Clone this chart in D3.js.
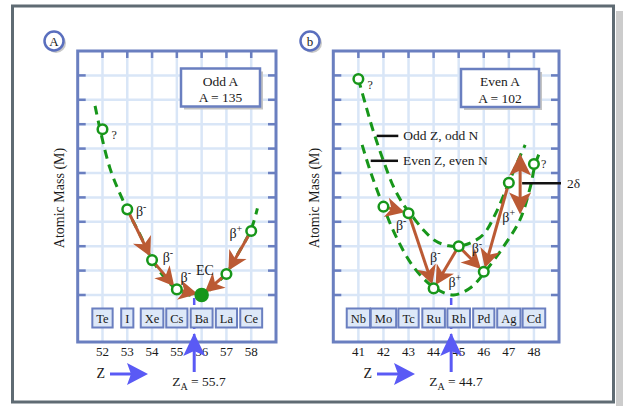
<!DOCTYPE html>
<html><head><meta charset="utf-8">
<script src="https://cdn.jsdelivr.net/npm/d3@7"></script>
<style>body{margin:0;background:#fff} svg{display:block} text{font-family:"Liberation Serif","Times New Roman",serif;fill:#1a1a1a}</style>
</head><body><svg id="c" width="623" height="406"></svg>
<script>
// ---------- Panel A data (odd A = 135) ----------
const oddZ = [52,53,54,55,56,57,58];
const oddSymbols = ["Te","I","Xe","Cs","Ba","La","Ce"];
const oddMass = [6.79,3.51,1.43,0.23,0.0,0.86,2.62];
const oddStable = ["Ba"];
const oddUnknown = ["Te"];
const oddCurveZ = [51.7,52.3,53.0,53.5,54.0,54.5,55.0,55.5,56.0,56.5,57.0,57.5,58.0,58.25];
const oddCurveM = [7.75,5.2,3.5,2.5,1.45,0.72,0.22,0.0,-0.05,0.38,0.9,1.75,2.7,3.55];
const oddDecayFrom = ["I","Xe","Cs","Ce","La"];
const oddDecayTo   = ["Xe","Cs","Ba","La","Ba"];
const oddDecayLabel = ["β−","β−","β−","β+","EC"];
const oddZA = 55.7;
const oddTitle = ["Odd A","A = 135"];

// ---------- Panel B data (even A = 102) ----------
const evenZ = [41,42,43,44,45,46,47,48];
const evenSymbols = ["Nb","Mo","Tc","Ru","Rh","Pd","Ag","Cd"];
const evenMass = [8.85,3.62,3.35,0.27,2.0,0.95,4.6,5.37];
const evenStable = [];
const evenUnknown = ["Nb","Cd"];
const oddOddCurveZ = [41.0,41.3,41.6,42.0,42.4,42.8,43.1,43.6,44.1,44.6,45.0,45.5,46.0,46.5,47.0,47.3,47.65];
const oddOddCurveM = [8.85,7.75,6.7,5.5,4.44,3.7,3.3,2.66,2.2,2.02,2.0,2.15,2.5,3.4,4.6,5.35,6.15];
const evenEvenCurveZ = [41.15,41.5,42.0,42.5,43.2,44.0,44.8,45.5,46.05,46.8,47.45,47.85,48.05,48.25];
const evenEvenCurveM = [6.15,5.0,3.62,2.4,1.15,0.32,0.0,0.32,0.95,2.0,3.1,4.4,5.35,5.9];
const evenDecayFrom = ["Mo","Tc","Rh","Rh","Ag"];
const evenDecayTo   = ["Tc","Ru","Ru","Pd","Pd"];
const evenDecayLabel = ["β−","β−","β+","β−","β+"];
const evenZA = 44.7;
const evenTitle = ["Even A","A = 102"];
const pairingZ = 47.45, pairingLow = 3.3, pairingHigh = 5.8;
const legendLabels = ["Odd Z, odd N","Even Z, even N"];

// ---------- Layout / style ----------
const FRAME = "#6a7fc0", GRID = "#d9e6f7", GREEN = "#17961a", BROWN = "#bb5a34", BLUE = "#5a5af5";
const TOP = 51, BOTTOM = 342;
const yS = d3.scaleLinear().domain([0,10]).range([295,51]);
const svg = d3.select("#c");

// outer frame with shadow
svg.append("rect").attr("x",616).attr("y",11).attr("width",7).attr("height",395).attr("fill","#cccccc");
svg.append("rect").attr("x",12.5).attr("y",6).attr("width",601).attr("height",396)
  .attr("fill","#fff").attr("stroke","#5f6b73").attr("stroke-width",3);

function betaText(sel, lab, x, y, anchor){
  const t = sel.append("text").attr("x",x).attr("y",y).attr("font-size",14).attr("text-anchor",anchor||"start");
  if (lab[0]==="β"){
    t.append("tspan").text("β");
    t.append("tspan").attr("dy",-6).attr("font-size",10).text(lab[1]==="−"?"-":"+");
  } else t.text(lab);
  return t;
}

function arrow(g, x0,y0,x1,y1, gap){
  const dx=x1-x0, dy=y1-y0, d=Math.hypot(dx,dy), ux=dx/d, uy=dy/d;
  const tx=x1-ux*gap, ty=y1-uy*gap, L=19, W=10;
  const bx=tx-ux*L, by=ty-uy*L, nx=-uy, ny=ux;
  g.append("line").attr("x1",x0).attr("y1",y0).attr("x2",tx-ux*L*0.6).attr("y2",ty-uy*L*0.6)
    .attr("stroke",BROWN).attr("stroke-width",3);
  g.append("path").attr("d",`M${tx},${ty}L${bx+nx*W},${by+ny*W}L${tx-ux*L*0.72},${ty-uy*L*0.72}L${bx-nx*W},${by-ny*W}Z`)
    .attr("fill",BROWN);
}

function panel(cfg){
  const x = cfg.x, g = svg.append("g");
  const [x0,x1] = x.range();
  const zTicks = d3.range(Math.ceil(x.domain()[0])+1, x.domain()[1]);
  // grid
  g.selectAll(".vg").data(zTicks).join("line").attr("x1",d=>x(d)).attr("x2",d=>x(d)).attr("y1",TOP).attr("y2",BOTTOM)
    .attr("stroke",GRID).attr("stroke-width",2.5);
  const mTicks = d3.range(0,10);
  g.selectAll(".hg").data(mTicks).join("line").attr("x1",x0).attr("x2",x1).attr("y1",d=>yS(d)).attr("y2",d=>yS(d))
    .attr("stroke",GRID).attr("stroke-width",2.5);
  // frame
  g.append("rect").attr("x",x0).attr("y",TOP).attr("width",x1-x0).attr("height",BOTTOM-TOP)
    .attr("fill","none").attr("stroke",FRAME).attr("stroke-width",3);
  // frame ticks
  g.selectAll(".tt").data(zTicks).join("line").attr("x1",d=>x(d)).attr("x2",d=>x(d)).attr("y1",TOP).attr("y2",TOP+7)
    .attr("stroke",FRAME).attr("stroke-width",2.5);
  g.selectAll(".lt").data(mTicks).join("line").attr("x1",x0).attr("x2",x0+8).attr("y1",d=>yS(d)).attr("y2",d=>yS(d))
    .attr("stroke",FRAME).attr("stroke-width",2.5);
  g.selectAll(".rt").data(mTicks).join("line").attr("x1",x1-8).attr("x2",x1).attr("y1",d=>yS(d)).attr("y2",d=>yS(d))
    .attr("stroke",FRAME).attr("stroke-width",2.5);
  // Z_A dashed line
  const xa = x(cfg.za);
  g.append("line").attr("x1",xa).attr("x2",xa).attr("y1",yS(0)+3).attr("y2",BOTTOM)
    .attr("stroke",BLUE).attr("stroke-width",2.5).attr("stroke-dasharray","7,5");
  // element boxes
  cfg.Z.forEach((z,i)=>{
    const bg = g.append("g");
    const r = bg.append("rect").attr("y",308.5).attr("height",19).attr("fill","#dde8f8").attr("stroke",FRAME).attr("stroke-width",2);
    const t = bg.append("text").attr("x",x(z)).attr("y",322.5).attr("text-anchor","middle").attr("font-size",12.5).text(cfg.sym[i]);
    const w = t.node().getComputedTextLength()+8;
    r.attr("x",x(z)-w/2).attr("width",w);
  });
  // tick labels
  g.selectAll(".tl").data(cfg.Z).join("text").attr("x",d=>x(d)).attr("y",356).attr("text-anchor","middle")
    .attr("font-size",13).text(d=>d);
  // y title
  g.append("text").attr("transform",`translate(${x0-14},198) rotate(-90)`).attr("text-anchor","middle")
    .attr("font-size",14).text("Atomic Mass (M)");
  // curves
  const line = d3.line().x(d=>x(d[0])).y(d=>yS(d[1])).curve(d3.curveCatmullRom.alpha(0.5));
  cfg.curves.forEach(c=>{
    g.append("path").attr("d",line(d3.zip(c[0],c[1]))).attr("fill","none").attr("stroke",GREEN)
      .attr("stroke-width",3).attr("stroke-dasharray","9,6");
  });
  // decay arrows
  const pos = s => { const i=cfg.sym.indexOf(s); return [x(cfg.Z[i]), yS(cfg.mass[i])]; };
  cfg.from.forEach((f,i)=>{
    const a=pos(f), b=pos(cfg.to[i]);
    arrow(g,a[0],a[1],b[0],b[1],4);
  });
  // points
  cfg.Z.forEach((z,i)=>{
    const st = cfg.stable.includes(cfg.sym[i]);
    g.append("circle").attr("cx",x(z)).attr("cy",yS(cfg.mass[i])).attr("r",st?6:4.8)
      .attr("fill",st?GREEN:"#fff").attr("stroke",GREEN).attr("stroke-width",2.5);
    if (cfg.unknown.includes(cfg.sym[i]))
      g.append("text").attr("x",x(z)+cfg.qdx[cfg.unknown.indexOf(cfg.sym[i])]).attr("y",yS(cfg.mass[i])+cfg.qdy[cfg.unknown.indexOf(cfg.sym[i])])
        .attr("font-size",12).text("?");
  });
  // decay labels (placed in data coordinates)
  cfg.labels.forEach((lab,i)=>{
    const p = cfg.labelAt[i];
    betaText(g, lab, x(p[0]), yS(p[1])+5, lab==="EC"?"middle":"start");
  });
  // title box
  const tb = cfg.box;
  g.append("rect").attr("x",tb[0]+3).attr("y",tb[1]+3).attr("width",tb[2]).attr("height",tb[3]).attr("fill","#c4c4c4");
  g.append("rect").attr("x",tb[0]).attr("y",tb[1]).attr("width",tb[2]).attr("height",tb[3]).attr("fill","#fff")
    .attr("stroke",FRAME).attr("stroke-width",2.5);
  cfg.title.forEach((t,i)=> g.append("text").attr("x",tb[0]+tb[2]/2).attr("y",tb[1]+17+i*16.5).attr("text-anchor","middle")
    .attr("font-size",13.5).text(t));
  // panel tag
  g.append("circle").attr("cx",cfg.tag[0]+2).attr("cy",cfg.tag[1]+2).attr("r",10).attr("fill","#c8c8c8");
  g.append("circle").attr("cx",cfg.tag[0]).attr("cy",cfg.tag[1]).attr("r",9.5).attr("fill","#fff").attr("stroke","#5a6fbe").attr("stroke-width",2.5);
  g.append("text").attr("x",cfg.tag[0]).attr("y",cfg.tag[1]+4.5).attr("text-anchor","middle").attr("font-size",13).text(cfg.tag[2]);
  // Z arrow
  const zx = cfg.zArrow;
  g.append("text").attr("x",zx-5).attr("y",378).attr("text-anchor","end").attr("font-size",14).text("Z");
  g.append("line").attr("x1",zx).attr("x2",zx+22).attr("y1",374).attr("y2",374).attr("stroke",BLUE).attr("stroke-width",3);
  g.append("path").attr("d",`M${zx+38},374L${zx+17},363L${zx+21},374L${zx+17},385Z`).attr("fill",BLUE);
  // Z_A arrow
  g.append("line").attr("x1",xa).attr("x2",xa).attr("y1",372).attr("y2",350).attr("stroke",BLUE).attr("stroke-width",3);
  g.append("path").attr("d",`M${xa},333L${xa+11},356L${xa},351L${xa-11},356Z`).attr("fill",BLUE);
  const zt = g.append("text").attr("x",xa-22).attr("y",386).attr("font-size",13.5);
  zt.append("tspan").text("Z");
  zt.append("tspan").attr("dy",4).attr("font-size",10).text("A");
  zt.append("tspan").attr("dy",-4).text(" = "+cfg.za);
  return g;
}

const xA = d3.scaleLinear().domain([51,59]).range([77.7,276]);
panel({x:xA, Z:oddZ, sym:oddSymbols, mass:oddMass, stable:oddStable, unknown:oddUnknown, qdx:[9], qdy:[10],
  curves:[[oddCurveZ,oddCurveM]], from:oddDecayFrom, to:oddDecayTo, labels:oddDecayLabel,
  labelAt:[[53.35,3.44],[54.43,1.56],[55.15,0.75],[57.12,2.53],[56.13,1.02]],
  za:oddZA, title:oddTitle, box:[181,68.5,79,38], tag:[54,41,"A"], zArrow:110});

const xB = d3.scaleLinear().domain([40,49]).range([333.3,559]);
const gB = panel({x:xB, Z:evenZ, sym:evenSymbols, mass:evenMass, stable:evenStable, unknown:evenUnknown, qdx:[9,7], qdy:[10,4],
  curves:[[oddOddCurveZ,oddOddCurveM],[evenEvenCurveZ,evenEvenCurveM]], from:evenDecayFrom, to:evenDecayTo, labels:evenDecayLabel,
  labelAt:[[42.5,2.87],[43.86,1.55],[44.59,0.55],[45.52,1.91],[46.74,3.21]],
  za:evenZA, title:evenTitle, box:[461,69,78,38], tag:[310,41,"b"], zArrow:377});

// pairing (2δ) double arrow
const px = xB(pairingZ), yHi = yS(pairingHigh), yLo = yS(pairingLow);
gB.append("line").attr("x1",px).attr("x2",px).attr("y1",yHi+15).attr("y2",yLo-15).attr("stroke",BROWN).attr("stroke-width",3);
gB.append("path").attr("d",`M${px},${yHi}L${px+11},${yHi+22}L${px},${yHi+17}L${px-11},${yHi+22}Z`).attr("fill",BROWN);
gB.append("path").attr("d",`M${px},${yLo}L${px+11},${yLo-22}L${px},${yLo-17}L${px-11},${yLo-22}Z`).attr("fill",BROWN);
const ymid = yS(4.58);
gB.append("line").attr("x1",px+2).attr("x2",561).attr("y1",ymid).attr("y2",ymid).attr("stroke","#111").attr("stroke-width",2.5);
gB.append("text").attr("x",567).attr("y",ymid+5).attr("font-size",13.5).text("2δ");

// legend for the two parabolas
[[376.7,398.3,yS(6.52)],[370.7,398,yS(5.5)]].forEach((l,i)=>{
  gB.append("line").attr("x1",l[0]).attr("x2",l[1]).attr("y1",l[2]).attr("y2",l[2]).attr("stroke","#111").attr("stroke-width",2.5);
  gB.append("text").attr("x",l[1]+5).attr("y",l[2]+4.5).attr("font-size",13.5).text(legendLabels[i]);
});
</script></body></html>
